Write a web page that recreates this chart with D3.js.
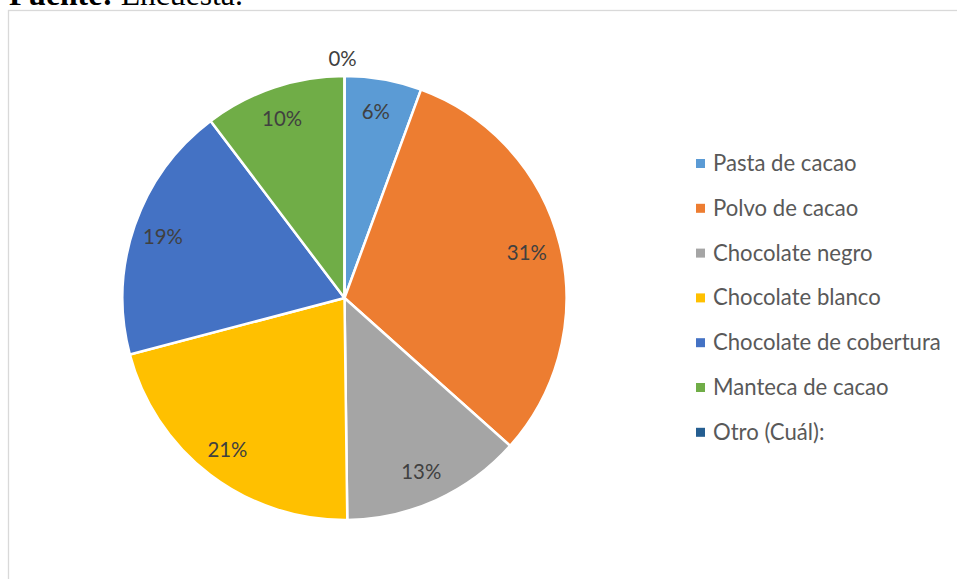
<!DOCTYPE html>
<html><head><meta charset="utf-8">
<script src="https://cdn.jsdelivr.net/npm/d3@7"></script>
<style>html,body{margin:0;padding:0;background:#fff;overflow:hidden}</style>
</head><body>
<svg id="c" width="957" height="579"></svg>
<script>
const categories = ["Pasta de cacao","Polvo de cacao","Chocolate negro","Chocolate blanco","Chocolate de cobertura","Manteca de cacao","Otro (Cuál):"];
const values = [5.6, 31.0, 13.2, 21.1, 18.8, 10.3, 0];
const labels = ["6%","31%","13%","21%","19%","10%","0%"];
const colors = ["#5B9BD5","#ED7D31","#A5A5A5","#FFC000","#4472C4","#70AD47","#255E91"];

const svg = d3.select("#c");
const font = "Lato, 'Open Sans', sans-serif";

// source line (cut off at top)
const src = svg.append("text").attr("x",9).attr("y",5)
  .attr("font-family","'Liberation Serif','Times New Roman',serif").attr("font-size",30).attr("fill","#000");
src.append("tspan").attr("font-weight","bold").text("Fuente:");
src.append("tspan").text(" Encuesta.");
{ const w = src.node().getComputedTextLength(); src.attr("font-size", 30*234/w); }

// chart border
svg.append("rect").attr("x",8.5).attr("y",10.5).attr("width",1000).attr("height",700)
  .attr("fill","none").attr("stroke","#D9D9D9").attr("stroke-width",1.3);

const cx = 344.5, cy = 298, r = 222;
const g = svg.append("g").attr("transform",`translate(${cx},${cy})`);
const pie = d3.pie().sort(null).value(d=>d).startAngle(0).endAngle(2*Math.PI);
const arcs = pie(values);
const arc = d3.arc().innerRadius(0).outerRadius(r);
g.selectAll("path").data(arcs).join("path")
  .attr("d",arc).attr("fill",(d,i)=>colors[i])
  .attr("stroke","#fff").attr("stroke-width",2.5).attr("stroke-linejoin","round");

// measure label font size to match reference width (19% ~ 40px)
const probe = svg.append("text").attr("font-family",font).attr("font-size",24).text("19%");
const lblSize = 24*40/probe.node().getComputedTextLength();
probe.remove();

const lab = d3.arc().innerRadius(190).outerRadius(190);
const labOut = d3.arc().innerRadius(240).outerRadius(240);
g.selectAll("text.l").data(arcs).join("text").attr("class","l")
  .attr("transform",(d,i)=>{ const c = (d.value===0? labOut: lab).centroid(d); return `translate(${c[0]-2},${c[1]})`; })
  .attr("text-anchor","middle").attr("dominant-baseline","central")
  .attr("font-family",font).attr("font-size",lblSize).attr("fill","#404040")
  .text((d,i)=>labels[i]);

// legend
const probe2 = svg.append("text").attr("font-family",font).attr("font-size",24).text("Chocolate de cobertura");
const legSize = 24*228/probe2.node().getComputedTextLength();
probe2.remove();
const leg = svg.append("g");
const rows = leg.selectAll("g").data(categories).join("g")
  .attr("transform",(d,i)=>`translate(0,${171 + i*44.8})`);
rows.append("rect").attr("x",696).attr("y",-12).attr("width",9).attr("height",9)
  .attr("fill",(d,i)=>colors[i]);
rows.append("text").attr("x",713).attr("y",0)
  .attr("font-family",font).attr("font-size",legSize).attr("fill","#595959").text(d=>d);
</script>
</body></html>
